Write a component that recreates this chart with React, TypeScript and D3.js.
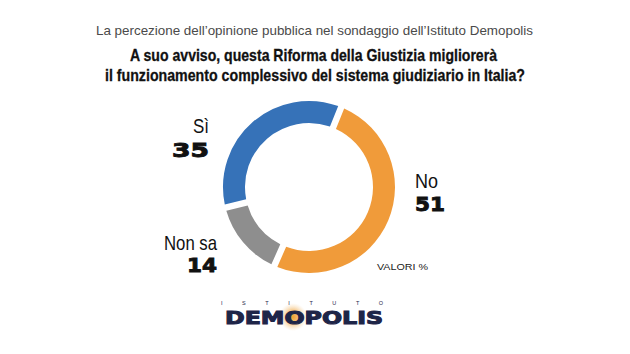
import { useEffect, useRef } from 'react';
import * as d3 from 'd3';

// Demopolis poll: will the justice reform improve the judicial system?
const categories = ['No', 'Non sa', 'Sì'];
const values = [51, 14, 35];
const colors = ['#f09b3a', '#8e8e8e', '#3672b8'];

const subtitle = 'La percezione dell\u2019opinione pubblica nel sondaggio dell\u2019Istituto Demopolis';
const titleLines = [
  'A suo avviso, questa Riforma della Giustizia migliorerà',
  'il funzionamento complessivo del sistema giudiziario in Italia?',
];

// label placement (layout only)
const labelLayout: Record<string, { x: number; y: number; ny: number; anchor: string; w: number }> = {
  'Sì': { x: 209, y: 133, ny: 157, anchor: 'end', w: 16 },
  'No': { x: 415, y: 188, ny: 211, anchor: 'start', w: 23 },
  'Non sa': { x: 217, y: 250, ny: 272, anchor: 'end', w: 53 },
};

const W = 630;
const H = 354;

// width of a heavy extended number, narrow "1"
const numWidth = (s: string) => s.split('').reduce((a, ch) => a + (ch === '1' ? 11.5 : 18.5), 0);

export default function App() {
  const svgRef = useRef<SVGSVGElement>(null);

  useEffect(() => {
    if (!svgRef.current) return;
    const svg = d3.select(svgRef.current);
    svg.selectAll('*').remove();

    svg.append('rect').attr('width', W).attr('height', H).attr('fill', '#fff');

    // Header
    svg.append('text')
      .attr('x', 96).attr('y', 35)
      .attr('font-family', 'Liberation Sans, Arial, sans-serif')
      .attr('font-size', 13)
      .attr('textLength', 437)
      .attr('lengthAdjust', 'spacingAndGlyphs')
      .attr('fill', '#4a4a4a')
      .text(subtitle);

    const titleX = [130, 105];
    const titleW = [367, 420];
    titleLines.forEach((t, i) => {
      svg.append('text')
        .attr('x', titleX[i]).attr('y', 61 + i * 20)
        .attr('font-family', 'Liberation Sans, Arial, sans-serif')
        .attr('font-weight', 700)
        .attr('font-size', 17)
        .attr('textLength', titleW[i])
        .attr('lengthAdjust', 'spacingAndGlyphs')
        .attr('fill', '#111')
        .attr('stroke', '#111')
        .attr('stroke-width', 0.3)
        .text(t);
    });

    // Donut
    const cx = 309;
    const cy = 187;
    const pie = d3.pie<number>()
      .sort(null)
      .startAngle((22 * Math.PI) / 180)
      .endAngle((22 * Math.PI) / 180 + 2 * Math.PI)
      .padAngle(0.06);
    const arc = d3.arc<d3.PieArcDatum<number>>()
      .innerRadius(64)
      .outerRadius(86);

    const g = svg.append('g').attr('transform', `translate(${cx},${cy})`);
    g.selectAll('path')
      .data(pie(values))
      .join('path')
      .attr('d', arc)
      .attr('fill', (_, i) => colors[i]);

    // Labels
    categories.forEach((c, i) => {
      const l = labelLayout[c];
      const lx = l.anchor === 'end' ? l.x - l.w : l.x;
      svg.append('text')
        .attr('x', lx).attr('y', l.y)
        .attr('font-family', 'Liberation Sans, Arial, sans-serif')
        .attr('font-size', 21)
        .attr('textLength', l.w)
        .attr('lengthAdjust', 'spacingAndGlyphs')
        .attr('fill', '#111')
        .text(c);
      const s = String(values[i]);
      const nw = numWidth(s);
      const nx = l.anchor === 'end' ? l.x - nw : l.x;
      svg.append('text')
        .attr('x', nx).attr('y', l.ny)
        .attr('font-family', 'DejaVu Sans, sans-serif')
        .attr('font-weight', 700)
        .attr('font-size', 19.5)
        .attr('textLength', nw)
        .attr('lengthAdjust', 'spacingAndGlyphs')
        .attr('fill', '#111')
        .attr('stroke', '#111')
        .attr('stroke-width', 0.9)
        .text(s);
    });

    svg.append('text')
      .attr('x', 377).attr('y', 270)
      .attr('font-family', 'Liberation Sans, Arial, sans-serif')
      .attr('font-size', 9.5)
      .attr('textLength', 51)
      .attr('lengthAdjust', 'spacingAndGlyphs')
      .attr('fill', '#222')
      .text('VALORI %');

    // Logo
    const defs = svg.append('defs');
    const grad = defs.append('radialGradient').attr('id', 'glow');
    grad.append('stop').attr('offset', '0%').attr('stop-color', '#f0a030').attr('stop-opacity', 1);
    grad.append('stop').attr('offset', '45%').attr('stop-color', '#f3b560').attr('stop-opacity', 0.8);
    grad.append('stop').attr('offset', '100%').attr('stop-color', '#f7d9b0').attr('stop-opacity', 0);
    svg.append('circle')
      .attr('cx', 293).attr('cy', 317).attr('r', 14)
      .attr('fill', 'url(#glow)');

    svg.append('text')
      .attr('x', 221).attr('y', 305)
      .attr('font-family', 'Liberation Sans, Arial, sans-serif')
      .attr('font-size', 5.5)
      .attr('textLength', 162)
      .attr('lengthAdjust', 'spacing')
      .attr('fill', '#1e2548')
      .text('ISTITUTO');

    svg.append('text')
      .attr('x', 225).attr('y', 323.5)
      .attr('font-family', 'DejaVu Sans, sans-serif')
      .attr('font-weight', 700)
      .attr('font-size', 17)
      .attr('textLength', 158)
      .attr('lengthAdjust', 'spacingAndGlyphs')
      .attr('fill', '#1e2548')
      .attr('stroke', '#1e2548')
      .attr('stroke-width', 1)
      .text('DEMOPOLIS');
  }, []);

  return (
    <svg
      ref={svgRef}
      width={W}
      height={H}
      style={{ position: 'absolute', left: 0, top: 0 }}
    />
  );
}
